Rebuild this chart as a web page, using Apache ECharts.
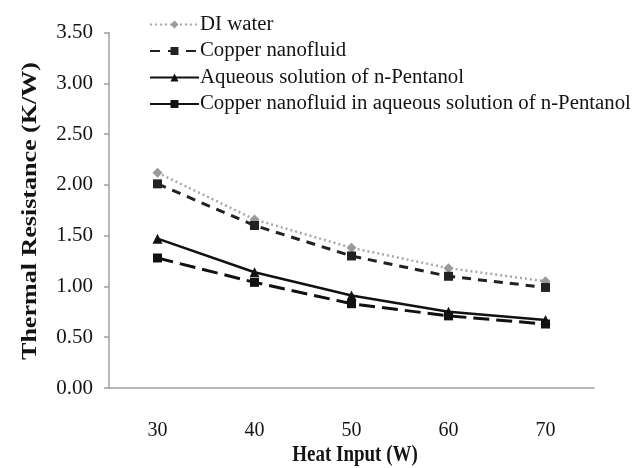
<!DOCTYPE html>
<html>
<head>
<meta charset="utf-8">
<script src="https://cdn.jsdelivr.net/npm/echarts@6/dist/echarts.min.js"></script>
<style>
  html, body { margin: 0; padding: 0; background: #fff; }
  #chart { width: 638px; height: 468px; }
</style>
</head>
<body>
<div id="chart"></div>
<script>
// Heat input levels (W)
const heatInput = ['30', '40', '50', '60', '70'];

// Thermal resistance (K/W) for each working fluid
const diWater = [2.12, 1.66, 1.38, 1.18, 1.05];
const copperNanofluid = [2.01, 1.60, 1.30, 1.10, 0.99];
const aqueousPentanol = [1.47, 1.14, 0.91, 0.75, 0.67];
const copperInPentanol = [1.28, 1.04, 0.83, 0.71, 0.63];

const seriesNames = [
  'DI water',
  'Copper nanofluid',
  'Aqueous solution of n-Pentanol',
  'Copper nanofluid in aqueous solution of n-Pentanol'
];

const xTitle = 'Heat Input (W)';
const yTitle = 'Thermal Resistance (K/W)';

const serif = '"Liberation Serif", "Times New Roman", serif';
const ink = '#141414';

const chart = echarts.init(document.getElementById('chart'), null, { renderer: 'canvas' });

chart.setOption({
  animation: false,
  backgroundColor: '#ffffff',
  grid: { left: 109, right: 44, top: 32.5, bottom: 80, containLabel: false },
  legend: {
    orient: 'vertical',
    left: 144,
    top: 9,
    itemWidth: 49,
    itemHeight: 10,
    itemGap: 5.5,
    textStyle: { fontFamily: serif, fontSize: 20.8, color: ink, padding: [0, 0, 0, -4] },
    data: [
      { name: seriesNames[0] },
      { name: seriesNames[1], lineStyle: { type: [10, 8] } },
      { name: seriesNames[2] },
      { name: seriesNames[3], lineStyle: { type: 'solid' } }
    ]
  },
  // Axis titles drawn as text elements so they can be stretched like the rest of the typography
  graphic: [
    {
      type: 'text',
      x: 31,
      y: 211,
      rotation: Math.PI / 2,
      scaleX: 1.24,
      style: {
        text: yTitle,
        font: 'bold 21px ' + serif,
        fill: ink,
        align: 'center',
        verticalAlign: 'middle'
      }
    },
    {
      type: 'text',
      x: 355,
      y: 455,
      scaleY: 1.2,
      style: {
        text: xTitle,
        font: 'bold 19px ' + serif,
        fill: ink,
        align: 'center',
        verticalAlign: 'middle'
      }
    }
  ],
  xAxis: {
    type: 'category',
    data: heatInput,
    boundaryGap: true,
    axisLine: { lineStyle: { color: '#a0a0a0', width: 1.5 } },
    axisTick: { show: false },
    axisLabel: { margin: 33, fontFamily: serif, fontSize: 20, color: ink },
    splitLine: { show: false }
  },
  yAxis: {
    type: 'value',
    min: 0,
    max: 3.5,
    interval: 0.5,
    axisLine: { show: true, lineStyle: { color: '#a0a0a0', width: 1.5 } },
    axisTick: { show: true, length: 5, lineStyle: { color: '#a0a0a0', width: 1.5 } },
    axisLabel: {
      margin: 16,
      fontFamily: serif,
      fontSize: 21,
      color: ink,
      formatter: v => v.toFixed(2)
    },
    splitLine: { show: false }
  },
  series: [
    {
      name: seriesNames[0],
      type: 'line',
      data: diWater,
      symbol: 'diamond',
      symbolSize: 10,
      itemStyle: { color: '#9a9a9a' },
      lineStyle: { color: '#a8a8a8', width: 2.5, type: [2, 3] },
      z: 2
    },
    {
      name: seriesNames[1],
      type: 'line',
      data: copperNanofluid,
      symbol: 'rect',
      symbolSize: 9,
      itemStyle: { color: '#222222' },
      lineStyle: { color: '#222222', width: 3, type: [9, 7] },
      z: 3
    },
    {
      name: seriesNames[2],
      type: 'line',
      data: aqueousPentanol,
      symbol: 'triangle',
      symbolSize: 10,
      itemStyle: { color: '#111111' },
      lineStyle: { color: '#111111', width: 2.5, type: 'solid' },
      z: 4
    },
    {
      name: seriesNames[3],
      type: 'line',
      data: copperInPentanol,
      symbol: 'rect',
      symbolSize: 9,
      itemStyle: { color: '#111111' },
      lineStyle: { color: '#111111', width: 3, type: [16, 7] },
      z: 5
    }
  ]
});
</script>
</body>
</html>
